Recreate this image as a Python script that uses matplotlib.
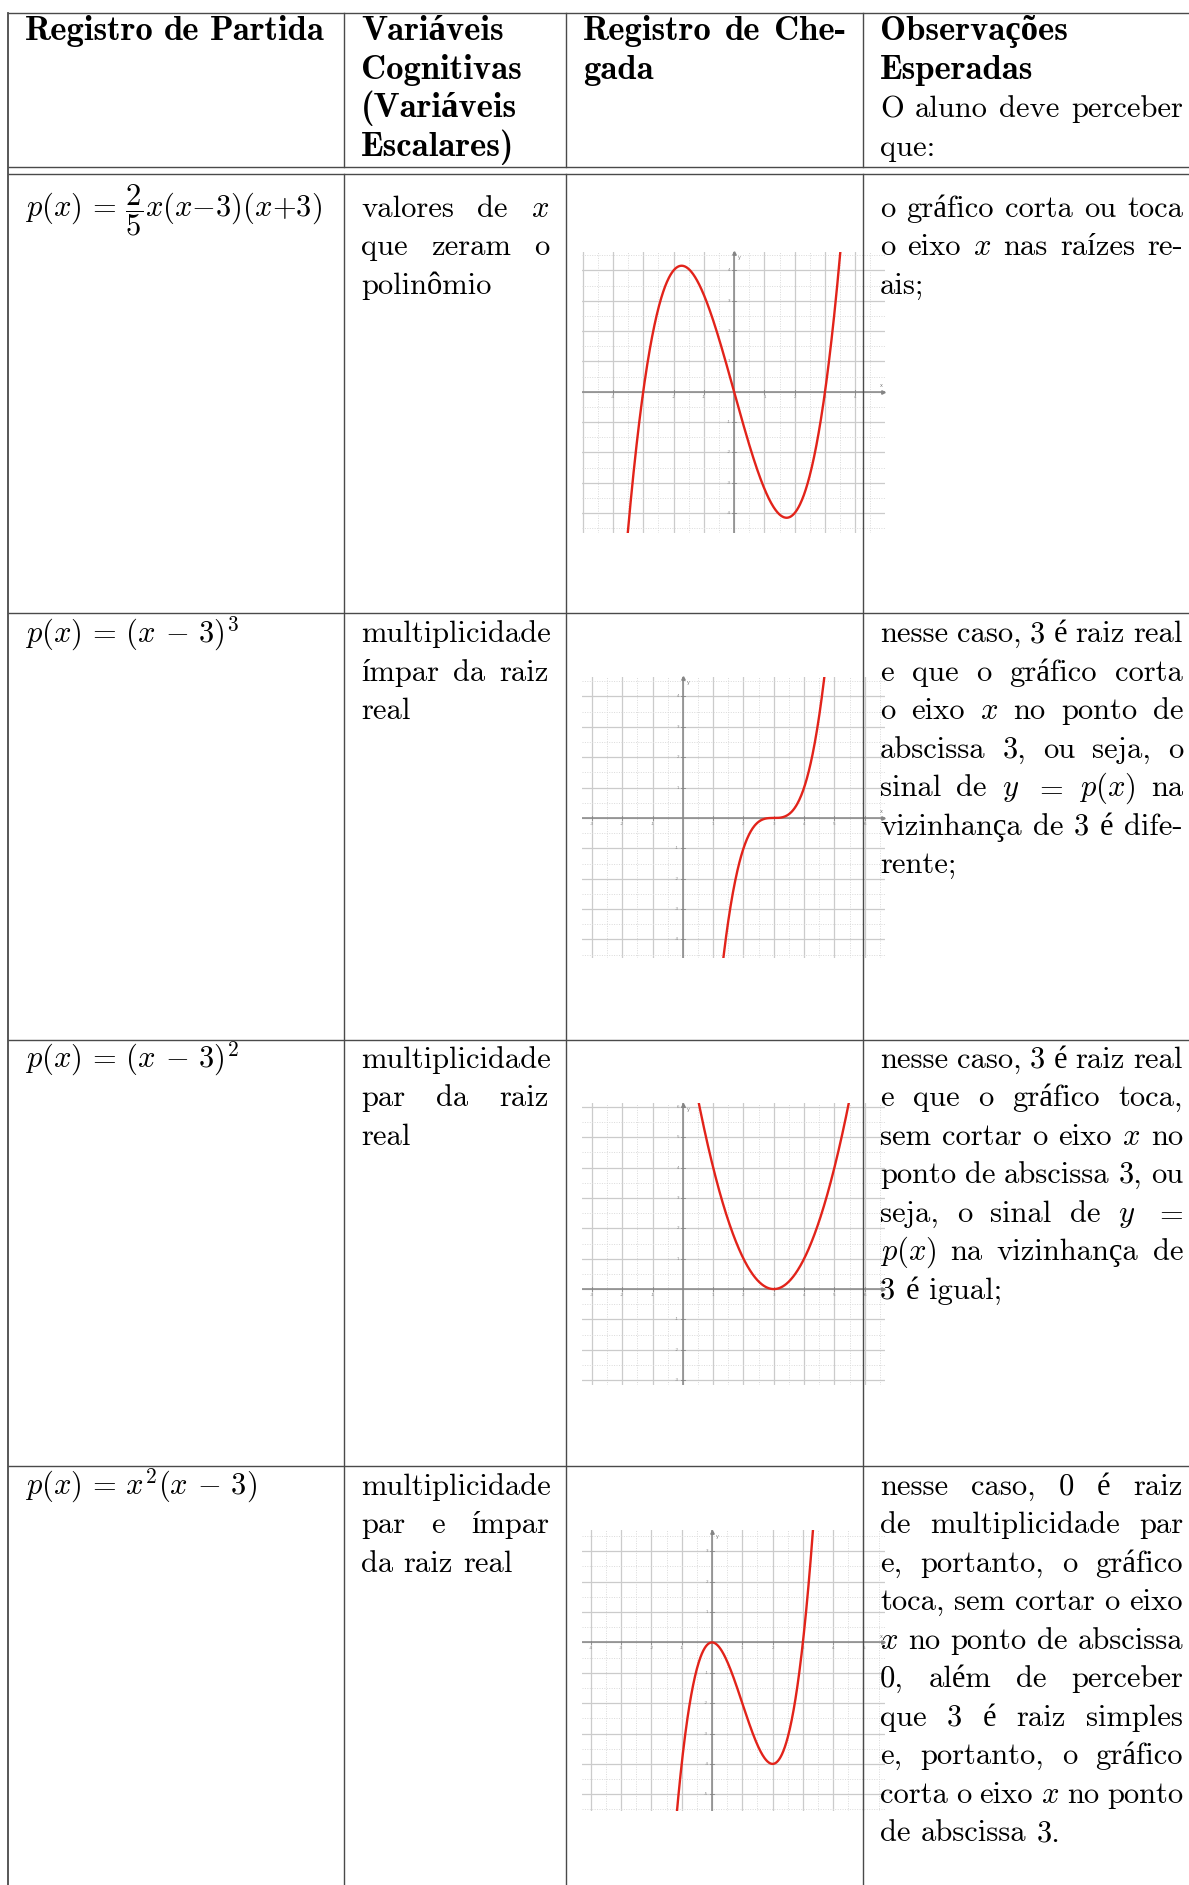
import numpy as np
import matplotlib
matplotlib.use("Agg")
import matplotlib.pyplot as plt

plt.rcParams['mathtext.fontset'] = 'cm'

W, H = 1189, 1885
FS = 22
FS_BOLD = 25
TEXT_FAM = ['cmr10', 'Liberation Serif']
BOLD_FAM = ['cmb10', 'Liberation Serif']

# ---- table content ----
HEADER = [
    [("Registro de Partida", False)],
    [("Variáveis", False), ("Cognitivas", False), ("(Variáveis", False), ("Escalares)", False)],
    [("Registro de Che-", True), ("gada", False)],
]
HEADER_OBS_BOLD = ["Observações", "Esperadas"]
HEADER_OBS = [("O aluno deve perceber", True), ("que:", False)]

FORMULAS = [r"$p(x)\,=\,\dfrac{2}{5}x(x{-}3)(x{+}3)$",
            r"$p(x)\,=\,(x\,-\,3)^3$",
            r"$p(x)\,=\,(x\,-\,3)^2$",
            r"$p(x)\,=\,x^2(x\,-\,3)$"]

VARIAVEIS = [
    [("valores de $x$", True), ("que zeram o", True), ("polinômio", False)],
    [("multiplicidade", False), ("ímpar da raiz", True), ("real", False)],
    [("multiplicidade", False), ("par da raiz", True), ("real", False)],
    [("multiplicidade", False), ("par e ímpar", True), ("da raiz real", False)],
]

OBSERVACOES = [
    [("o gráfico corta ou toca", True), ("o eixo $x$ nas raízes re-", True), ("ais;", False)],
    [("nesse caso, 3 é raiz real", True), ("e que o gráfico corta", True),
     ("o eixo $x$ no ponto de", True), ("abscissa 3, ou seja, o", True),
     ("sinal de $y$ $=$ $p(x)$ na", True), ("vizinhança de 3 é dife-", True), ("rente;", False)],
    [("nesse caso, 3 é raiz real", True), ("e que o gráfico toca,", True),
     ("sem cortar o eixo $x$ no", True), ("ponto de abscissa 3, ou", True),
     ("seja, o sinal de $y$ $=$", True), ("$p(x)$ na vizinhança de", True), ("3 é igual;", False)],
    [("nesse caso, 0 é raiz", True), ("de multiplicidade par", True),
     ("e, portanto, o gráfico", True), ("toca, sem cortar o eixo", True),
     ("$x$ no ponto de abscissa", True), ("0, além de perceber", True),
     ("que 3 é raiz simples", True), ("e, portanto, o gráfico", True),
     ("corta o eixo $x$ no ponto", True), ("de abscissa 3.", False)],
]

# ---- curves: leading coefficient and real roots of each polynomial ----
LEADS = [2 / 5, 1, 1, 1]
ROOTS = [[-3, 0, 3], [3, 3, 3], [3, 3], [0, 0, 3]]
XLIMS = [(-5.02, 4.98), (-3.33, 6.67), (-3.33, 6.67), (-4.29, 5.71)]
YLIMS = [(-4.66, 4.62), (-4.62, 4.65), (-3.16, 6.13), (-5.55, 3.70)]
X_TICKS = [[-4, -3, -2, -1, 1, 2, 3, 4],
           [-3, -2, -1, 1, 2, 3, 4, 5, 6],
           [-3, -2, -1, 1, 2, 3, 4, 5, 6],
           [-4, -3, -2, -1, 1, 2, 3, 4, 5]]
Y_TICKS = [[-4, -3, -2, -1, 1, 2, 3, 4],
           [-4, -3, -2, -1, 1, 2, 3, 4],
           [-3, -2, -1, 1, 2, 3, 4, 5, 6],
           [-5, -4, -3, -2, -1, 1, 2, 3]]

# layout (pixels)
COL_X = [8, 344, 566, 863]
PAD = 17
TEXT_RIGHT = [344 - PAD, 566 - PAD, 863 - PAD, 1183]
TOP, HEAD1, HEAD2 = 12.7, 167, 174
ROW_LINES = [613, 1040, 1465.5]
HEAD_BASE = 40
ROW_BASE = [216.5, 642, 1067.5, 1494.5]
LS = 38.5
PLOT_BOX = [(582, 251.7, 885, 533), (582, 676.7, 885, 958.3),
            (582, 1103, 885, 1385), (582, 1530, 885, 1811)]

fig = plt.figure(figsize=(W / 100, H / 100), dpi=100)

GRID = '#cbcbcb'
AXC = '#858585'
RED = '#e2231a'


def draw_plot(k):
    l, t, r, b = PLOT_BOX[k]
    pax = fig.add_axes([l / W, 1 - b / H, (r - l) / W, (b - t) / H])
    x0, x1 = XLIMS[k]
    y0, y1 = YLIMS[k]
    pax.set_xlim(x0, x1)
    pax.set_ylim(y0, y1)
    pax.axis('off')
    for v in np.arange(np.ceil(x0 * 2) / 2, x1, 0.5):
        if v % 1 == 0:
            pax.axvline(v, color=GRID, lw=0.9, zorder=1)
        else:
            pax.axvline(v, color='#dadada', lw=0.7, ls=(0, (1, 1.5)), zorder=1)
    for v in np.arange(np.ceil(y0 * 2) / 2, y1, 0.5):
        if v % 1 == 0:
            pax.axhline(v, color=GRID, lw=0.9, zorder=1)
        else:
            pax.axhline(v, color='#dadada', lw=0.7, ls=(0, (1, 1.5)), zorder=1)
    pax.axhline(0, color=AXC, lw=1.1, zorder=2)
    pax.axvline(0, color=AXC, lw=1.1, zorder=2)
    pax.plot([x1 - 0.05], [0], marker='>', ms=2.5, color=AXC, clip_on=False)
    pax.plot([0], [y1 - 0.05], marker='^', ms=2.5, color=AXC, clip_on=False)
    pax.text(x1 - 0.12, 0.12, 'x', fontsize=3.5, color='#777', ha='center', va='bottom')
    pax.text(0.12, y1 - 0.12, 'y', fontsize=3.5, color='#777', ha='left', va='top')
    for v in X_TICKS[k]:
        pax.plot([v, v], [-0.06, 0.06], color=AXC, lw=0.6)
        pax.text(v, -0.12, str(v), fontsize=3, color='#888', ha='center', va='top')
    for v in Y_TICKS[k]:
        pax.plot([-0.06, 0.06], [v, v], color=AXC, lw=0.6)
        pax.text(-0.12, v, str(v), fontsize=3, color='#888', ha='right', va='center')
    xs = np.linspace(x0, x1, 800)
    ys = LEADS[k] * np.polyval(np.poly(ROOTS[k]), xs)
    pax.plot(xs, ys, color=RED, lw=1.7, zorder=3)


for k in range(4):
    draw_plot(k)

ax = fig.add_axes([0, 0, 1, 1])
ax.set_xlim(0, W)
ax.set_ylim(H, 0)
ax.axis('off')
renderer = fig.canvas.get_renderer()
SPACE = FS * 100 / 72 * 0.333


def text_line(line, x0, x1, y, justify, bold=False):
    fam = BOLD_FAM if bold else TEXT_FAM
    size = FS_BOLD if bold else FS
    words = line.split(' ')
    ts = [ax.text(x0, y, w, fontsize=size, family=fam, weight='bold' if bold else 'normal',
                  va='baseline', ha='left', color='black', zorder=5) for w in words]
    ws = [t.get_window_extent(renderer).width for t in ts]
    gap = SPACE
    if justify and len(ts) > 1:
        gap = (x1 - x0 - sum(ws)) / (len(ts) - 1)
    x = x0
    for t, w in zip(ts, ws):
        t.set_x(x)
        x += w + gap


def cell(lines, col, y0, bold=False):
    for i, (ln, just) in enumerate(lines):
        text_line(ln, COL_X[col] + PAD, TEXT_RIGHT[col], y0 + i * LS, just, bold)


# header
for c in range(3):
    cell(HEADER[c], c, HEAD_BASE, bold=True)
cell([(s, False) for s in HEADER_OBS_BOLD], 3, HEAD_BASE, bold=True)
cell(HEADER_OBS, 3, HEAD_BASE + 2 * LS)

# body
for r in range(4):
    ax.text(COL_X[0] + PAD, ROW_BASE[r], FORMULAS[r], fontsize=FS, va='baseline',
            ha='left', zorder=5)
    cell(VARIAVEIS[r], 1, ROW_BASE[r])
    cell(OBSERVACOES[r], 3, ROW_BASE[r])

# rules
LC = '#4a4a4a'
LW = 1.0
for yy in [TOP, HEAD1, HEAD2] + ROW_LINES:
    ax.plot([COL_X[0], W], [yy, yy], color=LC, lw=LW, zorder=6, solid_capstyle='butt')
ax.plot([COL_X[0], COL_X[0]], [TOP, H], color=LC, lw=LW * 1.3, zorder=6)
for xx in COL_X[1:]:
    ax.plot([xx, xx], [TOP, HEAD1], color=LC, lw=LW, zorder=6)
    ax.plot([xx, xx], [HEAD2, H], color=LC, lw=LW, zorder=6)

fig.savefig('out.png', dpi=100, facecolor='white')
